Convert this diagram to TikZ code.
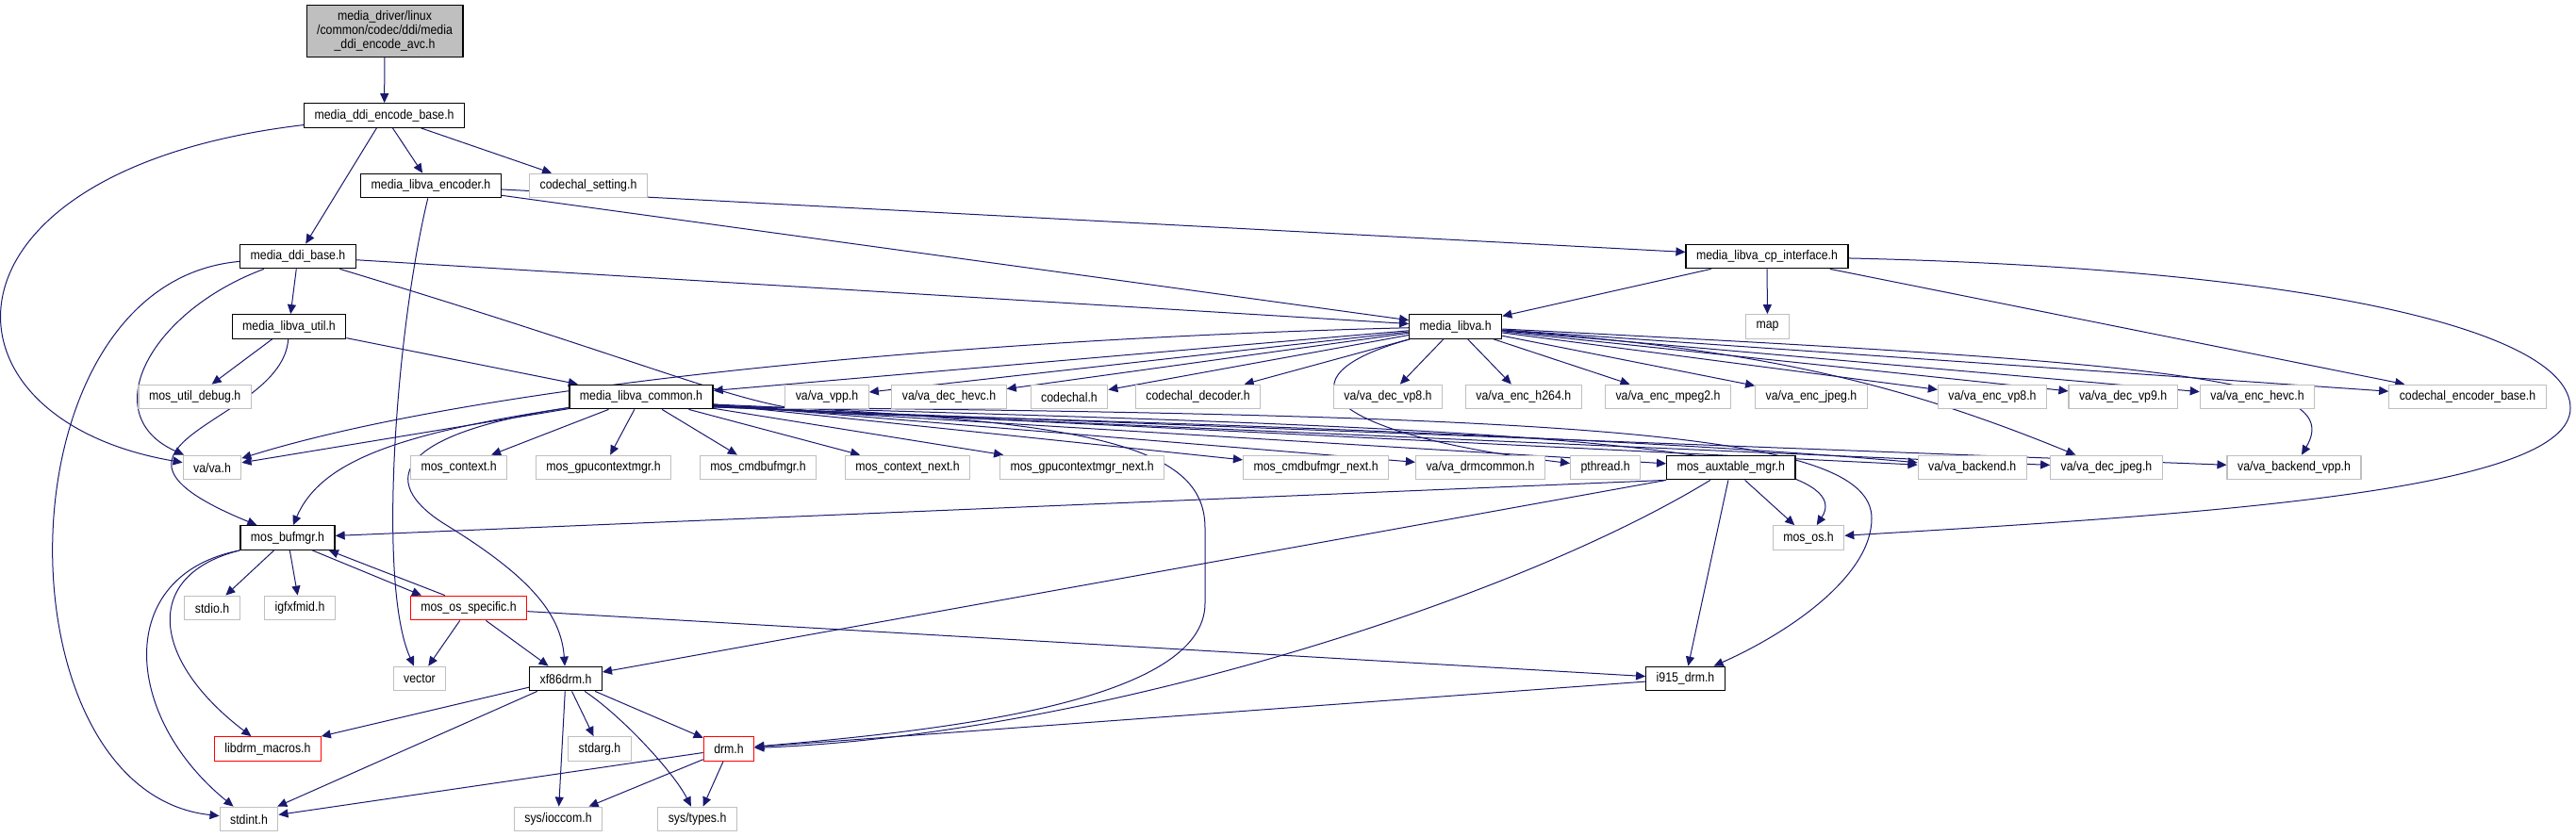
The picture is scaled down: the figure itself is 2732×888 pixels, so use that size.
\documentclass[tikz,border=0pt]{standalone}
\usepackage{fontspec}
\setmainfont[FakeStretch=0.88]{Liberation Sans}
\usepackage{tikz}
\usetikzlibrary{arrows.meta,backgrounds}
\definecolor{edgeblue}{HTML}{191970}
\definecolor{extgray}{HTML}{BFBFBF}
\definecolor{rootgray}{HTML}{BFBFBF}
\definecolor{cutred}{HTML}{FF0000}

\begin{document}
\begin{tikzpicture}[x=0.5pt,y=-0.5pt,every node/.style={font=\fontsize{7}{7.5}\selectfont},hdr/.style={draw=black,fill=white,line width=0.6pt,inner xsep=5.5pt,inner ysep=0pt,minimum height=12.8pt},sys/.style={hdr,draw=extgray},trunc/.style={hdr,draw=cutred},root/.style={hdr,fill=rootgray,align=center,inner ysep=3pt},inc/.style={draw=edgeblue,line width=0.5pt,-{Triangle[length=5pt,width=4.5pt]}}]
\useasboundingbox (0,0) rectangle (2732,888);
% rows of headers, top to bottom
\node[root] (root) at (408,33) {media\_driver/linux\\/common/codec/ddi/media\\\_ddi\_encode\_avc.h};
\node[hdr] (encbase) at (407.6,122.5) {media\_ddi\_encode\_base.h};
\node[hdr] (encoder) at (457,197) {media\_libva\_encoder.h};
\node[sys] (setting) at (624,197) {codechal\_setting.h};
\node[hdr] (ddibase) at (316,272) {media\_ddi\_base.h};
\node[hdr] (cpif) at (1874,272) {media\_libva\_cp\_interface.h};
\node[hdr] (util) at (306.5,346.5) {media\_libva\_util.h};
\node[hdr] (libva) at (1543.7,346.5) {media\_libva.h};
\node[sys] (map) at (1874.5,346.5) {map};
\node[sys] (dbg) at (206.7,421) {mos\_util\_debug.h};
\node[hdr] (common) at (680,421) {media\_libva\_common.h};
\node[sys] (vpp) at (877,421) {va/va\_vpp.h};
\node[sys] (dechevc) at (1006.5,421) {va/va\_dec\_hevc.h};
\node[sys] (codechal) at (1134,421) {codechal.h};
\node[sys] (decoder) at (1270.6,421) {codechal\_decoder.h};
\node[sys] (decvp8) at (1472,421) {va/va\_dec\_vp8.h};
\node[sys] (ench264) at (1615.8,421) {va/va\_enc\_h264.h};
\node[sys] (encmpeg2) at (1769,421) {va/va\_enc\_mpeg2.h};
\node[sys] (encjpeg) at (1921,421) {va/va\_enc\_jpeg.h};
\node[sys] (encvp8) at (2113,421) {va/va\_enc\_vp8.h};
\node[sys] (decvp9) at (2251.6,421) {va/va\_dec\_vp9.h};
\node[sys] (enchevc) at (2394,421) {va/va\_enc\_hevc.h};
\node[sys] (cencbase) at (2617,421) {codechal\_encoder\_base.h};
\node[sys] (vah) at (225,496) {va/va.h};
\node[sys] (ctx) at (486.6,496) {mos\_context.h};
\node[sys] (gpuctx) at (640,496) {mos\_gpucontextmgr.h};
\node[sys] (cmdbuf) at (804,496) {mos\_cmdbufmgr.h};
\node[sys] (ctxnext) at (962.6,496) {mos\_context\_next.h};
\node[sys] (gpunext) at (1147.6,496) {mos\_gpucontextmgr\_next.h};
\node[sys] (cmdnext) at (1395.6,496) {mos\_cmdbufmgr\_next.h};
\node[sys] (drmcommon) at (1570,496) {va/va\_drmcommon.h};
\node[sys] (pthread) at (1702.6,496) {pthread.h};
\node[hdr] (auxtable) at (1835.8,496) {mos\_auxtable\_mgr.h};
\node[sys] (backend) at (2091.7,496) {va/va\_backend.h};
\node[sys] (decjpeg) at (2234,496) {va/va\_dec\_jpeg.h};
\node[sys] (backendvpp) at (2433,496) {va/va\_backend\_vpp.h};
\node[hdr] (bufmgr) at (305,570.5) {mos\_bufmgr.h};
\node[sys] (mosos) at (1918,570.5) {mos\_os.h};
\node[sys] (stdio) at (225,645) {stdio.h};
\node[sys] (igfx) at (318,645) {igfxfmid.h};
\node[trunc] (osspec) at (497,645) {mos\_os\_specific.h};
\node[sys] (vector) at (445,720) {vector};
\node[hdr] (xf86) at (600,720) {xf86drm.h};
\node[hdr] (i915) at (1787.5,720) {i915\_drm.h};
\node[trunc] (macros) at (284,794.5) {libdrm\_macros.h};
\node[sys] (stdarg) at (636,794.5) {stdarg.h};
\node[trunc] (drm) at (773,794.5) {drm.h};
\node[sys] (stdint) at (264,869) {stdint.h};
\node[sys] (ioccom) at (592,869) {sys/ioccom.h};
\node[sys] (types) at (739.6,869) {sys/types.h};
% include edges
\begin{scope}[on background layer]
\fill[white] (0,0) rectangle (2732,888);
\draw[inc] (root) -- (encbase);
\draw[inc] (encbase) .. controls (-80,180) and (-80,444) .. (vah);
\draw[inc] (encbase) -- (ddibase);
\draw[inc] (encbase) -- (encoder);
\draw[inc] (encbase) -- (setting);
\draw[inc] (encoder) -- (cpif);
\draw[inc] (encoder) -- (libva);
\draw[inc] (encoder) .. controls (420,350) and (400,620) .. (vector);
\draw[inc] (ddibase) .. controls (-5,300) and (-5,840) .. (stdint);
\draw[inc] (ddibase) .. controls (160,330) and (100,440) .. (vah);
\draw[inc] (ddibase) -- (util);
\draw[inc] (ddibase) -- (libva);
\draw[inc] (ddibase) .. controls (740,400) and (790,436) .. (900,439) .. controls (1400,452) and (1800,470) .. (backend);
\draw[inc] (util) -- (dbg);
\draw[inc] (util) .. controls (300,450) and (60,470) .. (bufmgr);
\draw[inc] (util) -- (common);
\draw[inc] (common) -- (vah);
\draw[inc] (common) .. controls (420,460) and (340,490) .. (bufmgr);
\draw[inc] (common) .. controls (420,460) and (400,510) .. (470,555) .. controls (560,610) and (595,650) .. (xf86);
\draw[inc] (common) -- (ctx);
\draw[inc] (common) -- (gpuctx);
\draw[inc] (common) -- (cmdbuf);
\draw[inc] (common) -- (ctxnext);
\draw[inc] (common) -- (gpunext);
\draw[inc] (common.-6) -- (cmdnext);
\draw[inc] (common.-6) -- (drmcommon);
\draw[inc] (common.-7) -- (auxtable);
\draw[inc] (common.-7) -- (backend);
\draw[inc] (common.-8) -- (decjpeg);
\draw[inc] (common.-8) -- (backendvpp);
\draw[inc] (common.-7) .. controls (1400,450) and (1990,460) .. (mosos);
\draw[inc] (common.-8) .. controls (1700,440) and (1985,460) .. (1985,550) .. controls (1985,610) and (1900,670) .. (i915);
\draw[inc] (common.-6) .. controls (1150,445) and (1278,470) .. (1278,560) -- (1278,640) .. controls (1278,745) and (1000,775) .. (drm);
\draw[inc] (libva) .. controls (1000,360) and (500,410) .. (vah);
\draw[inc] (libva) -- (common);
\draw[inc] (libva) -- (vpp);
\draw[inc] (libva) -- (dechevc);
\draw[inc] (libva) -- (codechal);
\draw[inc] (libva) -- (decoder);
\draw[inc] (libva) -- (decvp8);
\draw[inc] (libva) -- (ench264);
\draw[inc] (libva) -- (encmpeg2);
\draw[inc] (libva) -- (encjpeg);
\draw[inc] (libva) -- (encvp8);
\draw[inc] (libva) -- (decvp9);
\draw[inc] (libva) -- (enchevc);
\draw[inc] (libva) -- (cencbase);
\draw[inc] (libva) .. controls (1350,400) and (1400,460) .. (pthread);
\draw[inc] (libva) .. controls (1850,370) and (2000,400) .. (decjpeg);
\draw[inc] (libva) .. controls (2300,385) and (2490,400) .. (backendvpp);
\draw[inc] (cpif) -- (libva);
\draw[inc] (cpif) -- (map);
\draw[inc] (cpif) -- (cencbase);
\draw[inc] (cpif) .. controls (2450,285) and (2726,350) .. (2726,433) .. controls (2726,520) and (2350,545) .. (mosos);
\draw[inc] (auxtable.south west) -- (bufmgr);
\draw[inc] (auxtable.south west) -- (xf86);
\draw[inc] (auxtable) .. controls (1600,640) and (1150,780) .. (drm);
\draw[inc] (auxtable) -- (i915);
\draw[inc] (auxtable) -- (mosos);
\draw[inc] (bufmgr) -- (stdio);
\draw[inc] (bufmgr) -- (igfx);
\draw[inc] (bufmgr.-27) -- (osspec.165);
\draw[inc] (osspec.152) -- (bufmgr.-17);
\draw[inc] (bufmgr.south west) .. controls (150,610) and (160,700) .. (macros);
\draw[inc] (bufmgr.south west) .. controls (120,610) and (130,760) .. (stdint);
\draw[inc] (osspec) -- (vector);
\draw[inc] (osspec) -- (xf86);
\draw[inc] (osspec) -- (i915);
\draw[inc] (xf86) -- (macros);
\draw[inc] (xf86) -- (stdint);
\draw[inc] (xf86) -- (ioccom);
\draw[inc] (xf86) -- (stdarg);
\draw[inc] (xf86) -- (drm);
\draw[inc] (xf86) .. controls (660,760) and (715,820) .. (types);
\draw[inc] (drm) -- (stdint);
\draw[inc] (drm) -- (ioccom);
\draw[inc] (drm) -- (types);
\draw[inc] (i915) -- (drm);
\end{scope}
\end{tikzpicture}
\end{document}
